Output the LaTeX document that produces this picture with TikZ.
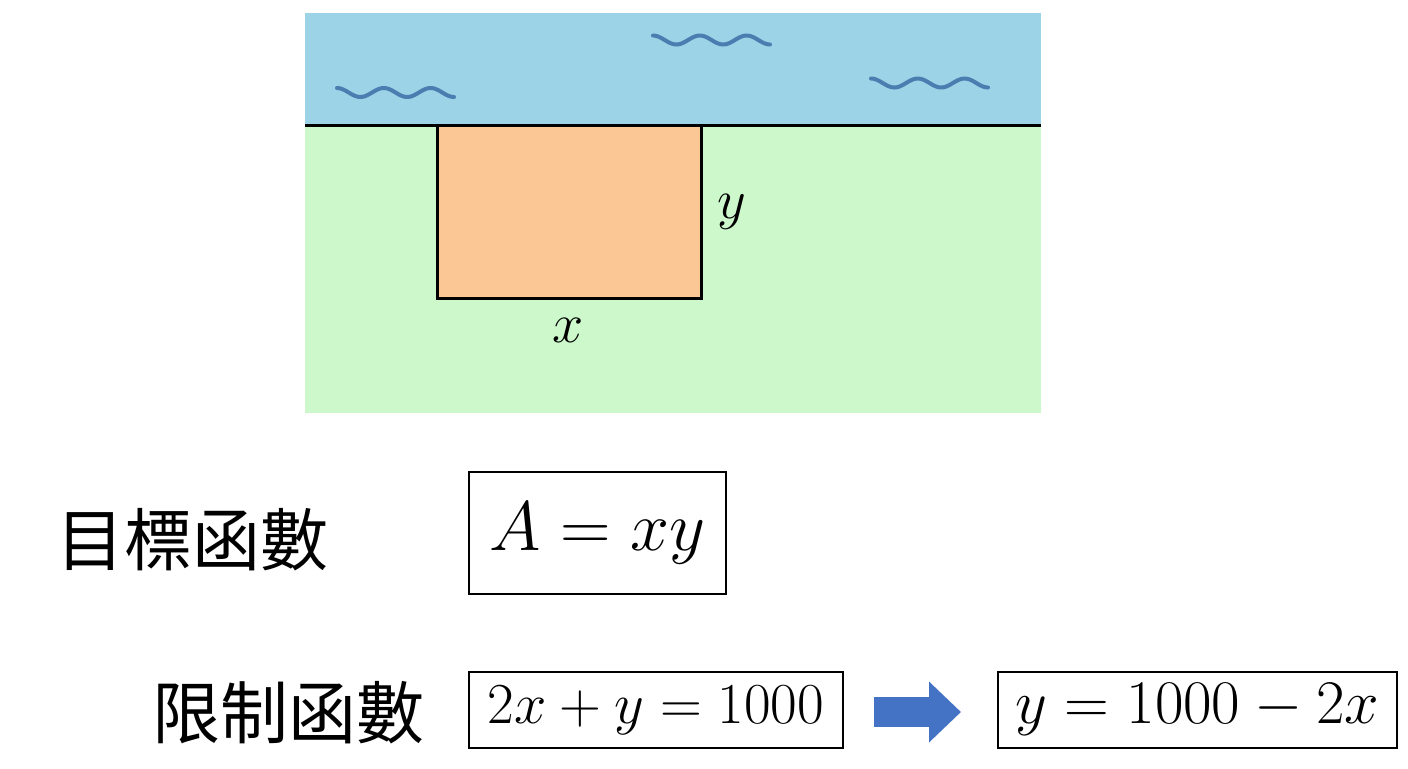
\RequirePackage{fix-cm}
\documentclass[tikz,border=0pt]{standalone}
\usepackage{fontspec}
\usepackage{amsmath}
\newfontfamily\cjk{Noto Sans CJK TC}
\usetikzlibrary{arrows.meta}
\definecolor{water}{HTML}{9CD3E7}
\definecolor{land}{HTML}{CDF8CC}
\definecolor{plot}{HTML}{FBC795}
\definecolor{ripple}{HTML}{4A7DB0}
\definecolor{arrowblue}{HTML}{4472C4}
\tikzset{
  eqbox/.style={draw=black, line width=1pt, inner sep=0pt, font=\fontsize{29}{34}\selectfont},
  cjklabel/.style={inner sep=0pt, font=\cjk\fontsize{34}{40}\selectfont},
  ripple line/.style={ripple, line width=2pt, line cap=round}
}
\begin{document}
\begin{tikzpicture}[x=0.5pt,y=-0.5pt]
			\useasboundingbox (0,0) rectangle (1408,768);
			% river and land
			\fill [water] (305,13) rectangle (1041,125);
			\fill [land] (305,125) rectangle (1041,413);
			\foreach \wx/\wy in {337/92.5, 653/40, 871/83}
				\draw [ripple line] plot [domain=0:117, samples=60, smooth] ({\wx+\x},{\wy-4.5*cos(\x/117*900)});
			\draw [black, line width=1.5pt] (305,125) -- (1041,125);
			% fenced plot
			\draw [black, fill=plot, line width=1.5pt] (437,125) rectangle (701,298);
			\node (lx) at (568,330) {\fontsize{28}{32}\selectfont $x$};
			\node (ly) at (732,212) {\fontsize{28}{32}\selectfont $y$};
			
			\node [cjklabel] (obj) at (192,540) {目標函數};
			\node [eqbox, minimum width=128.5pt, minimum height=61pt, font=\fontsize{35}{40}\selectfont] (area) at (597.5,533) {$A=xy$};
			
			\node [cjklabel] (con) at (288,713) {限制函數};
			\node [eqbox, minimum width=187pt, minimum height=38pt] (c1) at (656,710) {$2x+y=1000$};
			\node [eqbox, minimum width=199.5pt, minimum height=38pt, font=\fontsize{31}{36}\selectfont] (c2) at (1197.5,710) {$y=1000-2x$};
			\draw [arrowblue, line width=15pt, -{Triangle[length=16pt, width=29.5pt]}] ([xshift=15pt, yshift=-1pt]c1.east) -- ([xshift=-18pt, yshift=-1pt]c2.west);
		\end{tikzpicture}
\end{document}
